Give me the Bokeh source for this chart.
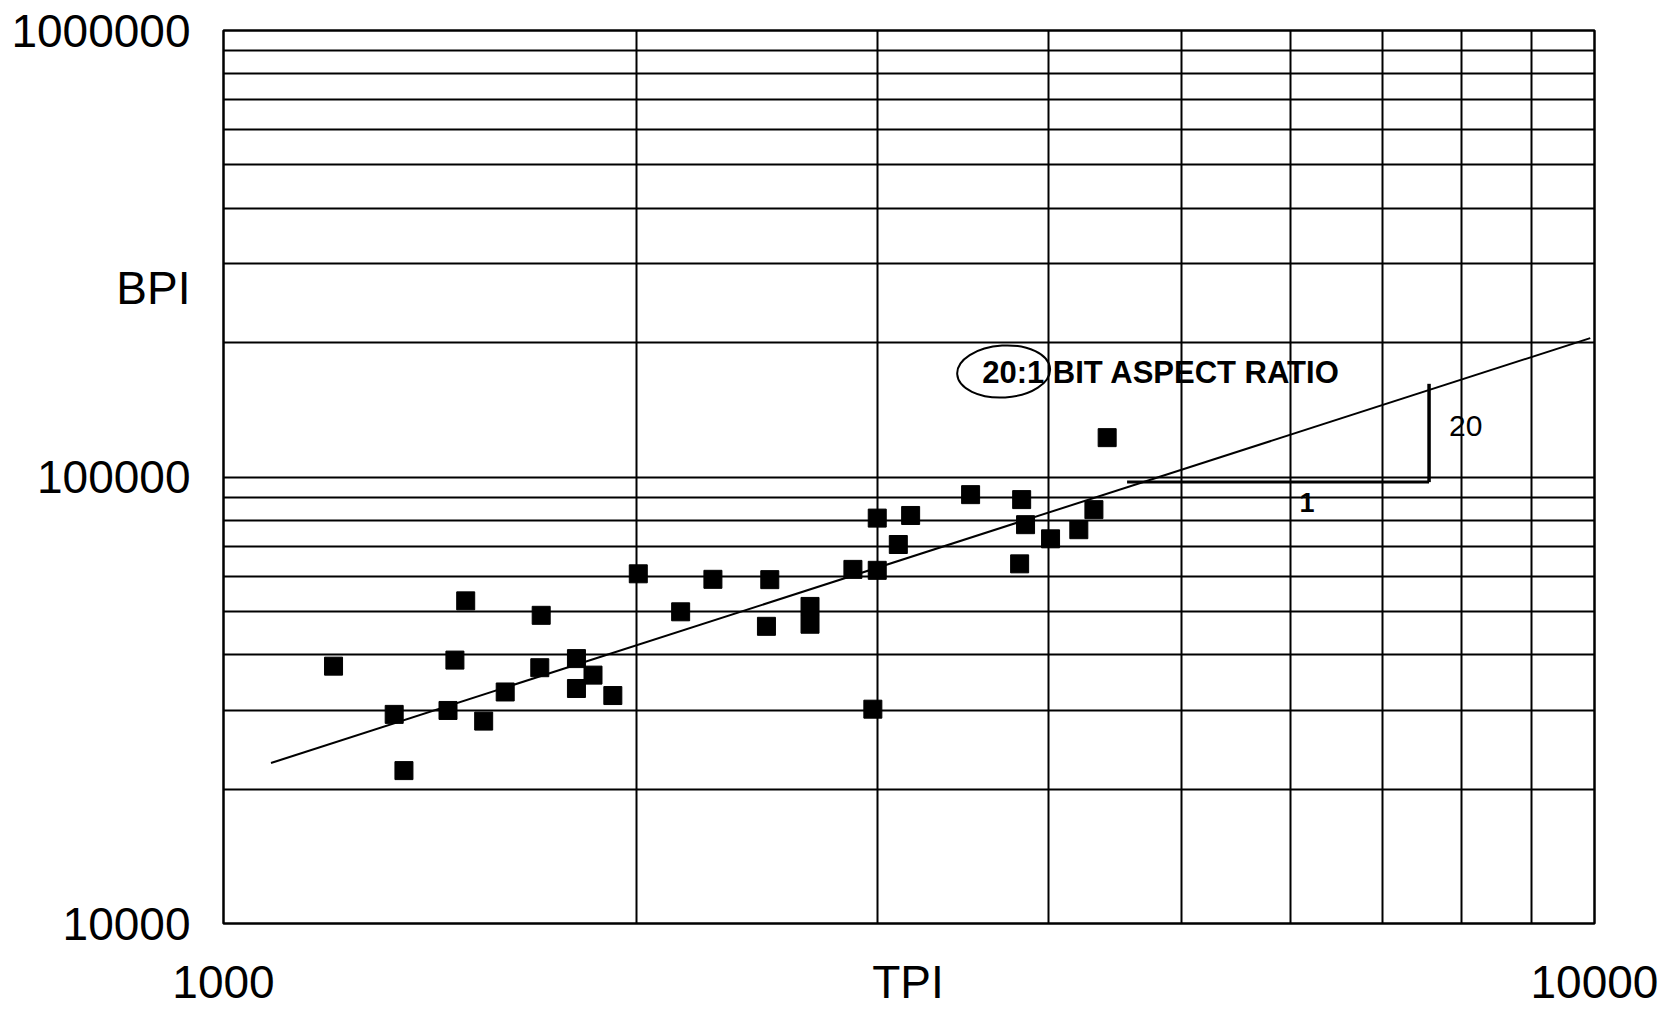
from bokeh.plotting import figure
from bokeh.models import Range1d, FixedTicker, PrintfTickFormatter, Label
from bokeh.embed import file_html
from bokeh.resources import INLINE

# ---- data (log-log: TPI vs BPI) ----
tpi = [1203, 1332, 1354, 1458, 1475, 1502, 1548, 1605, 1705, 1701,
       1809, 1809, 1860, 1923, 2007, 2155, 2275, 2489, 2503, 2678,
       2678, 2878, 2976, 2998, 2998, 3106, 3171, 3507, 3808, 3821,
       3846, 4011, 4206, 4314, 4411]
bpi = [37700, 29400, 22000, 30000, 38900, 52800, 28400, 33000, 49000, 37400,
       39200, 33600, 36000, 32400, 60700, 49900, 59000, 46300, 58900, 51300,
       46800, 62100, 30200, 80900, 61800, 70600, 82000, 91300, 63900, 89000,
       78200, 72700, 76200, 84500, 122500]

# 20:1 bit aspect ratio reference line
trend_tpi = [1083, 9929]
trend_bpi = [22880, 204700]

# slope triangle (run "1", rise "20")
tri_run_tpi = [4561, 7574]
tri_run_bpi = [97400, 97400]
tri_rise_tpi = [7574, 7574]
tri_rise_bpi = [97400, 161700]

x_major = [1000, 10000]
y_major = [10000, 100000, 1000000]
x_minor = [k * d for d in [1000] for k in range(2, 10)]
y_minor = [k * d for d in [10000, 100000] for k in range(2, 10)]

# hand-written axis titles, placed as extra tick labels
x_title, x_title_at = "TPI", 3157
y_title, y_title_at = "BPI", 264400

FONT = "Liberation Sans"

p = figure(width=1670, height=1021, x_axis_type="log", y_axis_type="log",
           x_range=Range1d(1000, 10000), y_range=Range1d(10000, 1000000),
           output_backend="svg", toolbar_location=None,
           min_border_left=223, min_border_right=76,
           min_border_top=30, min_border_bottom=98)

p.background_fill_color = "white"
p.border_fill_color = "white"
p.outline_line_color = "black"
p.outline_line_width = 2.5

p.xaxis.ticker = FixedTicker(ticks=x_major + [x_title_at])
p.yaxis.ticker = FixedTicker(ticks=y_major + [y_title_at])
p.xaxis.major_label_overrides = {x_title_at: x_title}
p.yaxis.major_label_overrides = {y_title_at: y_title}
for ax in (p.xaxis, p.yaxis):
    ax.formatter = PrintfTickFormatter(format="%d")
    ax.axis_line_color = None
    ax.major_tick_line_color = None
    ax.minor_tick_line_color = None
    ax.major_label_text_font = FONT
    ax.major_label_text_font_size = "46px"
    ax.major_label_text_color = "black"
p.yaxis.major_tick_out = 0
p.yaxis.major_tick_in = 0
p.yaxis.major_label_standoff = 33
p.xaxis.major_label_standoff = 26

p.xgrid.ticker = FixedTicker(ticks=x_major, minor_ticks=x_minor)
p.ygrid.ticker = FixedTicker(ticks=y_major, minor_ticks=y_minor)
for g in (p.xgrid, p.ygrid):
    g.grid_line_color = "black"
    g.grid_line_width = 2
    g.minor_grid_line_color = "black"
    g.minor_grid_line_width = 2

# reference line and triangle
p.line(trend_tpi, trend_bpi, line_color="black", line_width=2)
p.line(tri_run_tpi, tri_run_bpi, line_color="black", line_width=3)
p.line(tri_rise_tpi, tri_rise_bpi, line_color="black", line_width=3.5)

# data points
p.scatter(tpi, bpi, marker="square", size=18, fill_color="black",
          line_color="black")

# annotations
p.add_layout(Label(x=3576, y=171000, text="20:1 BIT ASPECT RATIO",
                   text_font=FONT, text_font_size="31px",
                   text_font_style="bold",
                   text_baseline="middle", text_align="left",
                   text_color="black"))
p.ellipse(x=[3707], y=[172300], width=93, height=52,
          width_units="screen", height_units="screen", angle=0.06,
          fill_color=None, line_color="black", line_width=2)
p.add_layout(Label(x=8054, y=129800, text="20", text_font=FONT,
                   text_font_size="30px", text_baseline="middle",
                   text_align="center", text_color="black"))
p.add_layout(Label(x=6170, y=87500, text="1", text_font=FONT,
                   text_font_size="27px", text_font_style="bold",
                   text_baseline="middle",
                   text_align="center", text_color="black"))

open("out.html", "w").write(file_html(p, INLINE))
